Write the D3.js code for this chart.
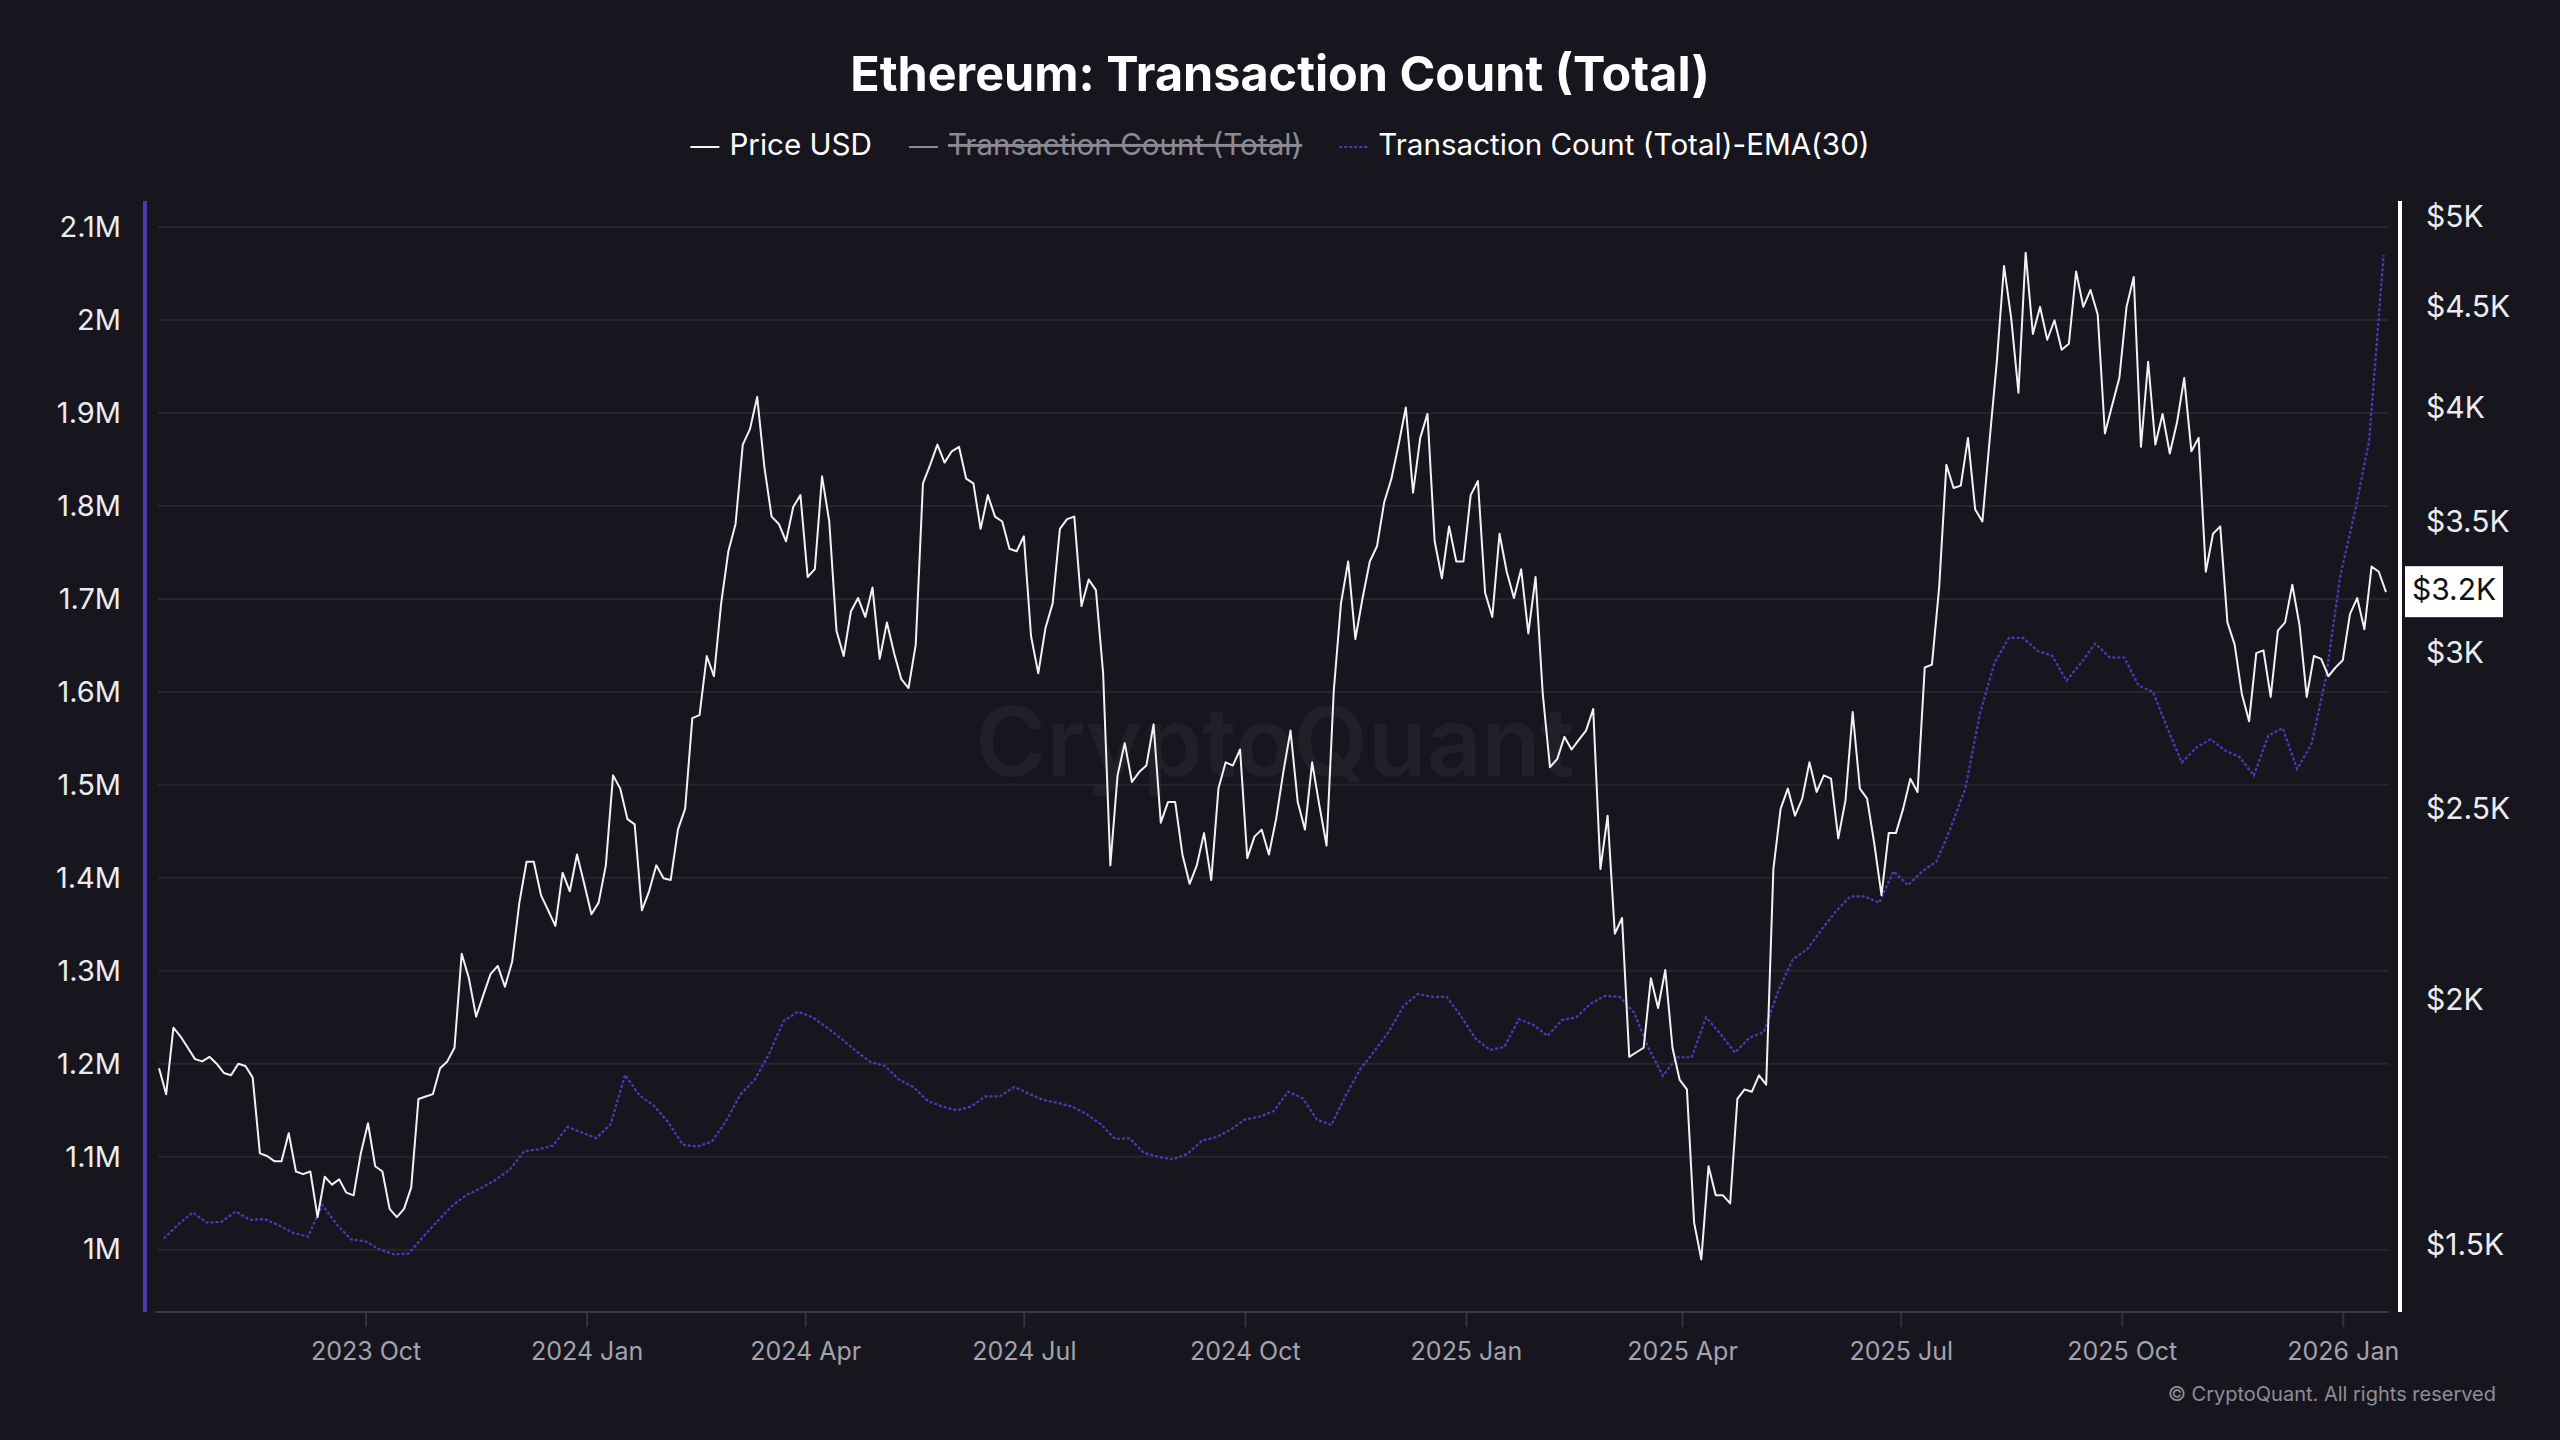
<!DOCTYPE html>
<html>
<head>
<meta charset="utf-8">
<script src="https://cdn.jsdelivr.net/npm/d3@7"></script>
<style>
  html, body { margin: 0; padding: 0; background: #17161f; }
  svg { display: block; font-family: Inter, "Noto Sans", sans-serif; }
</style>
</head>
<body>
<svg id="chart" width="2560" height="1440"></svg>
<script>
// ---- data ----
// ETH price, one value every 3 days from 2023-07-07
const priceStart = '2023-07-07', priceStepDays = 3;
const priceUsd = [
  1845, 1790, 1935, 1915, 1890, 1865, 1860, 1870, 1855, 1835,
  1830, 1855, 1850, 1825, 1670, 1665, 1655, 1655, 1710, 1635,
  1630, 1635, 1550, 1625, 1610, 1620, 1595, 1590, 1670, 1730,
  1645, 1635, 1565, 1550, 1565, 1605, 1780, 1785, 1790, 1845,
  1860, 1890, 2110, 2050, 1960, 2010, 2060, 2080, 2030, 2090,
  2240, 2350, 2350, 2260, 2220, 2180, 2320, 2270, 2370, 2290,
  2210, 2240, 2340, 2600, 2560, 2470, 2455, 2220, 2270, 2340,
  2305, 2300, 2440, 2500, 2780, 2790, 2990, 2920, 3180, 3380,
  3490, 3830, 3900, 4050, 3730, 3520, 3490, 3420, 3560, 3610,
  3280, 3310, 3690, 3500, 3080, 2990, 3150, 3200, 3130, 3240,
  2980, 3110, 3000, 2910, 2880, 3030, 3660, 3740, 3830, 3750,
  3800, 3820, 3680, 3660, 3470, 3610, 3520, 3500, 3390, 3380,
  3440, 3060, 2930, 3090, 3180, 3470, 3510, 3520, 3170, 3270,
  3230, 2930, 2340, 2600, 2700, 2580, 2610, 2630, 2760, 2460,
  2520, 2520, 2370, 2290, 2340, 2430, 2300, 2560, 2640, 2630,
  2680, 2360, 2420, 2440, 2370, 2470, 2610, 2740, 2520, 2440,
  2640, 2510, 2395, 2870, 3180, 3340, 3050, 3200, 3340, 3400,
  3580, 3680, 3830, 4000, 3620, 3860, 3970, 3420, 3275, 3480,
  3340, 3340, 3610, 3670, 3220, 3130, 3450, 3300, 3200, 3310,
  3070, 3280, 2860, 2625, 2650, 2720, 2680, 2710, 2740, 2810,
  2330, 2480, 2160, 2200, 1870, 1880, 1890, 2050, 1980, 2070,
  1890, 1820, 1800, 1540, 1475, 1645, 1590, 1590, 1575, 1780,
  1800, 1795, 1830, 1810, 2330, 2500, 2560, 2480, 2530, 2640,
  2550, 2600, 2590, 2415, 2525, 2800, 2560, 2530, 2400, 2260,
  2430, 2430, 2500, 2590, 2550, 2950, 2960, 3240, 3740, 3640,
  3650, 3860, 3550, 3500, 3850, 4220, 4720, 4440, 4070, 4795,
  4360, 4500, 4330, 4430, 4280, 4310, 4690, 4500, 4590, 4460,
  3880, 4010, 4140, 4500, 4660, 3820, 4220, 3830, 3970, 3790,
  3930, 4140, 3800, 3860, 3300, 3450, 3480, 3110, 3030, 2860,
  2770, 3000, 3010, 2850, 3080, 3110, 3250, 3100, 2850, 2990,
  2980, 2920, 2950, 2975, 3140, 3200, 3085, 3320, 3300, 3222
];

// Transaction count EMA(30), millions, one value every 6 days from 2023-07-09
const emaStart = '2023-07-09', emaStepDays = 6;
const txEma30 = [
  1.012, 1.027, 1.040, 1.029, 1.030, 1.041, 1.032, 1.033, 1.026, 1.018,
  1.014, 1.048, 1.027, 1.011, 1.009, 1.000, 0.995, 0.996, 1.014, 1.031,
  1.047, 1.059, 1.066, 1.075, 1.086, 1.106, 1.108, 1.112, 1.132, 1.126,
  1.120, 1.135, 1.188, 1.166, 1.155, 1.137, 1.113, 1.111, 1.116, 1.138,
  1.167, 1.183, 1.211, 1.246, 1.256, 1.250, 1.239, 1.227, 1.214, 1.202,
  1.198, 1.183, 1.175, 1.160, 1.154, 1.150, 1.154, 1.165, 1.165, 1.175,
  1.168, 1.161, 1.158, 1.154, 1.146, 1.135, 1.119, 1.120, 1.104, 1.100,
  1.097, 1.103, 1.117, 1.121, 1.129, 1.140, 1.143, 1.149, 1.170, 1.163,
  1.140, 1.134, 1.166, 1.194, 1.214, 1.235, 1.262, 1.275, 1.272, 1.272,
  1.251, 1.227, 1.215, 1.218, 1.248, 1.242, 1.230, 1.247, 1.250, 1.265,
  1.273, 1.272, 1.255, 1.217, 1.187, 1.207, 1.207, 1.250, 1.232, 1.212,
  1.228, 1.234, 1.278, 1.312, 1.323, 1.344, 1.364, 1.380, 1.380, 1.373,
  1.407, 1.392, 1.407, 1.418, 1.455, 1.497, 1.577, 1.631, 1.658, 1.658,
  1.644, 1.639, 1.612, 1.631, 1.652, 1.637, 1.637, 1.607, 1.600, 1.561,
  1.524, 1.540, 1.549, 1.537, 1.530, 1.510, 1.553, 1.561, 1.517, 1.544,
  1.615, 1.725, 1.793, 1.870, 2.070
];

const leftTicks = [1.0, 1.1, 1.2, 1.3, 1.4, 1.5, 1.6, 1.7, 1.8, 1.9, 2.0, 2.1];
const rightTicks = [1500, 2000, 2500, 3000, 3500, 4000, 4500, 5000];
const quarterTicks = ['2023-10-01', '2024-01-01', '2024-04-01', '2024-07-01', '2024-10-01',
                      '2025-01-01', '2025-04-01', '2025-07-01', '2025-10-01', '2026-01-01'];
const legendLabels = ['Price USD', 'Transaction Count (Total)', 'Transaction Count (Total)-EMA(30)'];
const legendHidden = [false, true, false];

// ---- layout ----
const W = 2560, H = 1440;
const X0 = 155, X1 = 2389, Y0 = 201, Y1 = 1312;
const C = {
  bg: '#17161f', grid: '#27262f', text: '#ececf0', muted: '#a3a2ae',
  price: '#f2f2f2', ema: '#4a3bbb', axisL: '#4a3aae', hidden: '#8a8995'
};
const FONT = 'Inter, "Noto Sans", sans-serif';

const parse = d3.timeParse('%Y-%m-%d');
const priceData = priceUsd.map((v, i) => ({ date: d3.timeDay.offset(parse(priceStart), i * priceStepDays), v }));
const emaData = txEma30.map((v, i) => ({ date: d3.timeDay.offset(parse(emaStart), i * emaStepDays), v }));

const x = d3.scaleTime().domain([parse('2023-07-07'), parse('2026-01-19')]).range([159, 2386]);
const yL = d3.scaleLinear().domain([0.933, 2.128]).range([Y1, Y0]);
const yR = d3.scaleLog().domain([1387, 5094]).range([Y1, Y0]);

const svg = d3.select('#chart');
svg.append('rect').attr('width', W).attr('height', H).attr('fill', C.bg);

// watermark
svg.append('text')
  .attr('x', 1275).attr('y', 750)
  .attr('text-anchor', 'middle').attr('dominant-baseline', 'middle')
  .style('font-family', FONT).style('font-size', '96px').style('font-weight', '600')
  .style('fill', '#ffffff').style('fill-opacity', 0.045)
  .text('CryptoQuant');

// title
svg.append('text')
  .attr('x', 1280).attr('y', 91)
  .attr('text-anchor', 'middle')
  .style('font-family', FONT).style('font-size', '48.5px').style('font-weight', '700')
  .style('fill', '#ffffff')
  .text('Ethereum: Transaction Count (Total)');

// legend, laid out as a centred row
const legendG = svg.append('g');
const LEG_Y = 147, SW = 29, SW_GAP = 10, ITEM_GAP = 37;
let cursor = 0;
legendLabels.forEach((label, i) => {
  const g = legendG.append('g').attr('transform', `translate(${cursor},0)`);
  const sw = g.append('line').attr('x1', 0).attr('x2', SW).attr('y1', LEG_Y).attr('y2', LEG_Y)
    .style('stroke-width', 2);
  if (i === 0) sw.style('stroke', C.price);
  else if (i === 1) sw.style('stroke', C.hidden);
  else sw.style('stroke', C.ema).style('stroke-dasharray', '3,2');
  const t = g.append('text')
    .attr('x', SW + SW_GAP).attr('y', LEG_Y).attr('dominant-baseline', 'middle')
    .style('font-family', FONT).style('font-size', '29.6px')
    .style('fill', legendHidden[i] ? C.hidden : '#ffffff')
    .style('text-decoration', legendHidden[i] ? 'line-through' : 'none')
    .text(label);
  cursor += SW + SW_GAP + t.node().getComputedTextLength() + ITEM_GAP;
});
const legW = cursor - ITEM_GAP;
legendG.attr('transform', `translate(${1280 - legW / 2},0)`);

// grid
svg.append('g').selectAll('line').data(leftTicks).join('line')
  .attr('x1', X0 + 3).attr('x2', X1)
  .attr('y1', d => yL(d)).attr('y2', d => yL(d))
  .style('stroke', C.grid).style('stroke-width', 2);

// left axis
const fmtM = d => d3.format('.2~s')(d * 1e6);
const axL = svg.append('g').attr('transform', `translate(145,0)`)
  .call(d3.axisLeft(yL).tickValues(leftTicks).tickSize(0).tickPadding(24).tickFormat(fmtM));
axL.select('.domain').remove();
axL.selectAll('text').style('font-family', FONT).style('font-size', '29px').style('fill', C.text);
svg.append('line').attr('x1', 145).attr('x2', 145).attr('y1', Y0).attr('y2', Y1)
  .style('stroke', C.axisL).style('stroke-width', 4);

// right axis
const fmtK = d => '$' + d3.format('~')(d / 1000) + 'K';
const axR = svg.append('g').attr('transform', `translate(2400,0)`)
  .call(d3.axisRight(yR).tickValues(rightTicks).tickSize(0).tickPadding(26).tickFormat(fmtK));
axR.select('.domain').remove();
axR.selectAll('text').style('font-family', FONT).style('font-size', '30px').style('fill', C.text);
svg.append('line').attr('x1', 2400).attr('x2', 2400).attr('y1', Y0).attr('y2', Y1)
  .style('stroke', '#ffffff').style('stroke-width', 4);

// bottom axis
const axB = svg.append('g').attr('transform', `translate(0,${Y1})`)
  .call(d3.axisBottom(x).tickValues(quarterTicks.map(parse)).tickSize(15).tickPadding(15)
    .tickFormat(d3.timeFormat('%Y %b')));
axB.select('.domain').remove();
axB.selectAll('.tick line').style('stroke', '#34333d').style('stroke-width', 2);
axB.selectAll('text').style('font-family', FONT).style('font-size', '25px').style('fill', C.muted);
svg.append('line').attr('x1', X0).attr('x2', X1).attr('y1', Y1).attr('y2', Y1)
  .style('stroke', '#3a3944').style('stroke-width', 2);

// series
svg.append('defs').append('clipPath').attr('id', 'plot')
  .append('rect').attr('x', X0).attr('y', Y0).attr('width', X1 - X0).attr('height', Y1 - Y0);
const plot = svg.append('g').attr('clip-path', 'url(#plot)');

plot.append('path').datum(emaData)
  .attr('d', d3.line().x(d => x(d.date)).y(d => yL(d.v)))
  .style('fill', 'none').style('stroke', C.ema).style('stroke-width', 2.2)
  .style('stroke-dasharray', '3,2');

plot.append('path').datum(priceData)
  .attr('d', d3.line().x(d => x(d.date)).y(d => yR(d.v)))
  .style('fill', 'none').style('stroke', C.price).style('stroke-width', 2)
  .style('stroke-linejoin', 'round');

// last price marker on the right axis
const last = priceData[priceData.length - 1];
const ly = yR(last.v);
svg.append('rect').attr('x', 2405).attr('y', ly - 26).attr('width', 98).attr('height', 51)
  .style('fill', '#ffffff');
svg.append('text').attr('x', 2454).attr('y', ly).attr('text-anchor', 'middle')
  .attr('dominant-baseline', 'middle')
  .style('font-family', FONT).style('font-size', '30px').style('fill', '#111111')
  .text('$' + d3.format('.1f')(last.v / 1000) + 'K');

// footer
svg.append('text').attr('x', 2496).attr('y', 1396).attr('text-anchor', 'end')
  .attr('dominant-baseline', 'middle')
  .style('font-family', FONT).style('font-size', '20px').style('fill', '#8e8d99')
  .text('© CryptoQuant. All rights reserved');
</script>
</body>
</html>
